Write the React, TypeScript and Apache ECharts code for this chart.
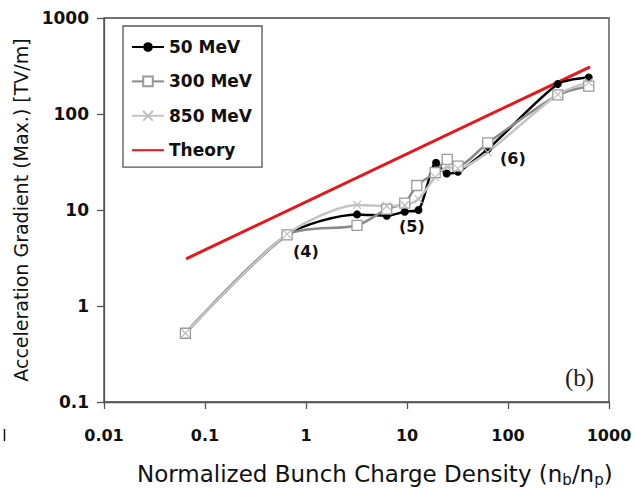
import React, { useEffect, useRef } from "react";
import * as echarts from "echarts";

// ---- data ----
const x50 = [0.064, 0.65, 3.2, 6.3, 9.5, 13, 19.4, 24.7, 32, 63, 311, 630];
const y50 = [0.52, 5.5, 9.0, 8.7, 9.6, 10, 31, 24, 25, 43, 205, 240];
const x300 = [0.064, 0.65, 3.2, 6.3, 9.5, 12.5, 19, 25, 32, 63, 311, 630];
const y300 = [0.52, 5.5, 6.9, 10.2, 11.8, 18, 24.5, 33.7, 28.7, 50, 158, 195];
const x850 = [0.064, 0.65, 3.2, 6.3, 9.5, 13, 19, 25, 32, 63, 311, 630];
const y850 = [0.52, 5.6, 11.3, 11, 11.2, 13, 22, 28, 27, 40, 160, 215];
const xTheory = [0.065, 650];
const yTheory = [3.1, 310];
const seriesNames = ["50 MeV", "300 MeV", "850 MeV", "Theory"];
const annotations = ["(4)", "(5)", "(6)"];
const xTitle = "Normalized Bunch Charge Density (n{s|b}/n{s|p})";
const yTitle = "Acceleration Gradient (Max.) [TV/m]";

const pairs = (xs: number[], ys: number[]) => xs.map((x, i) => [x, ys[i]]);

const FONT = "DejaVu Sans";
const AXIS = "#555";

export default function App() {
  const ref = useRef<HTMLDivElement>(null);
  useEffect(() => {
    if (!ref.current) return;
    const chart = echarts.init(ref.current, null, { renderer: "svg" });
    const fmt = (v: number) => String(Number(v.toPrecision(3)));
    const option: any = {
      animation: false,
      backgroundColor: "#fff",
      grid: {
        left: 104, right: 27, top: 18, bottom: 86,
        show: true, borderColor: "#444", borderWidth: 1.3,
      },
      legend: {
        data: [
          { name: seriesNames[0] },
          { name: seriesNames[1] },
          { name: seriesNames[2] },
          { name: seriesNames[3], itemStyle: { opacity: 0 } },
        ],
        orient: "vertical",
        left: 123, top: 26,
        borderColor: "#555", borderWidth: 1.3,
        padding: [11, 10, 7, 8],
        itemGap: 14.4,
        itemWidth: 32, itemHeight: 12,
        textStyle: { fontFamily: FONT, fontWeight: "bold", fontSize: 17, color: "#111", lineHeight: 20 },
      },
      xAxis: {
        type: "log", logBase: 10, min: 0.01, max: 1000,
        axisLine: { lineStyle: { color: AXIS, width: 1.3 } },
        axisTick: { length: 7, lineStyle: { color: AXIS, width: 1.3 } },
        minorTick: { show: false },
        splitLine: { show: false },
        axisLabel: { margin: 25, fontFamily: FONT, fontWeight: "bold", fontSize: 16, color: "#111", formatter: fmt },
      },
      yAxis: {
        type: "log", logBase: 10, min: 0.1, max: 1000,
        name: yTitle,
        nameLocation: "middle", nameGap: 72, nameRotate: 90,
        nameTextStyle: { fontFamily: FONT, fontSize: 19, color: "#111" },
        axisLine: { lineStyle: { color: AXIS, width: 1.3 } },
        axisTick: { length: 7, lineStyle: { color: AXIS, width: 1.3 } },
        minorTick: { show: false },
        splitLine: { show: false },
        axisLabel: { margin: 15, fontFamily: FONT, fontWeight: "bold", fontSize: 17, color: "#111", formatter: fmt },
      },
      series: [
        {
          name: "Theory", type: "line", data: pairs(xTheory, yTheory),
          symbol: "none", lineStyle: { color: "#e8161b", width: 3 }, itemStyle: { color: "#e8161b" },
        },
        {
          name: "50 MeV", type: "line", data: pairs(x50, y50), smooth: 0.25,
          symbol: "circle", symbolSize: 8,
          lineStyle: { color: "#000", width: 2.5 }, itemStyle: { color: "#000" },
        },
        {
          name: "300 MeV", type: "line", data: pairs(x300, y300), smooth: 0.25,
          symbol: "rect", symbolSize: 10,
          lineStyle: { color: "#8a8a8a", width: 2.5 },
          itemStyle: { color: "#fff", borderColor: "#9a9a9a", borderWidth: 1.3 },
        },
        {
          name: "850 MeV", type: "line", data: pairs(x850, y850), smooth: 0.25,
          symbol: "path://M0,0L10,10M10,0L0,10", symbolSize: 8,
          lineStyle: { color: "#c4c4c4", width: 2.5 },
          itemStyle: { color: "#c4c4c4", borderColor: "#bdbdbd", borderWidth: 1.2 },
        },
      ],
      graphic: [
        {
          type: "text", left: 137, top: 461,
          style: {
            text: xTitle, fontFamily: FONT, fontSize: 23, fill: "#111", lineHeight: 26,
            rich: { s: { fontFamily: FONT, fontSize: 15, fill: "#111", verticalAlign: "bottom", lineHeight: 14 } },
          },
        },
        { type: "text", left: 293, top: 243, style: { text: annotations[0], font: `bold 16px ${FONT}`, fill: "#111" } },
        { type: "text", left: 399, top: 218, style: { text: annotations[1], font: `bold 16px ${FONT}`, fill: "#111" } },
        { type: "text", left: 500, top: 150, style: { text: annotations[2], font: `bold 16px ${FONT}`, fill: "#111" } },
        { type: "text", left: 565, top: 365, style: { text: "(b)", font: `25px "Liberation Serif"`, fill: "#222" } },
        { type: "line", shape: { x1: 4.5, y1: 429, x2: 4.5, y2: 441 }, style: { stroke: "#111", lineWidth: 1.5 } },
      ],
    };
    chart.setOption(option);
    return () => chart.dispose();
  }, []);
  return <div ref={ref} style={{ width: 636, height: 488, position: "absolute", left: 0, top: 0 }} />;
}
